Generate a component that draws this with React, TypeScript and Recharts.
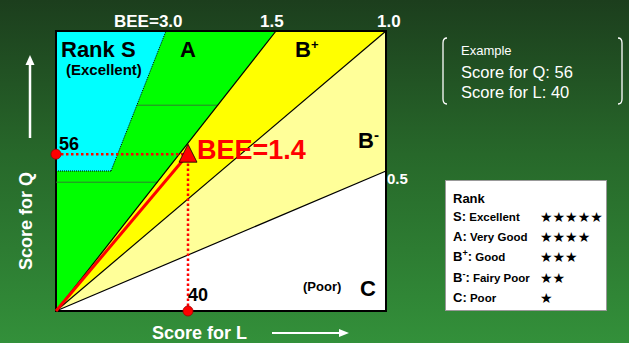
import React from 'react';
import {
  ComposedChart,
  Area,
  Scatter,
  XAxis,
  YAxis,
  CartesianGrid,
  ReferenceLine,
  ReferenceArea,
} from 'recharts';

// BEE boundaries (Q / L) drawn as lines from the origin
const beeLines = [0.5, 1.0, 1.5];
const beeTopLabels = ['BEE=3.0', '1.5', '1.0'];
// L positions where the bands bend
const lBreaks = [0, 50 / 3, 100 / 3, 200 / 3, 100];
// lower edge of each band (upper edge is 100)
const bMinusLow = [0, 8.3, 16.7, 33.3, 50];
const bPlusLow = [0, 16.7, 33.3, 66.7, 100];
const aLow = [0, 25, 50, 100, 100];
const sLow = [50, 50, 100, null, null];

// the example building
const exampleL = 40;
const exampleQ = 56;

// faint lines inside the green band
const greenLines = [
  { q: 73.5, from: 24.5, to: 49 },
  { q: 46, from: 0, to: 30.7 },
];

const rankRows = [
  { key: 'S', sup: '', text: 'Excellent', stars: '★★★★★' },
  { key: 'A', sup: '', text: 'Very Good', stars: '★★★★' },
  { key: 'B', sup: '+', text: 'Good', stars: '★★★' },
  { key: 'B', sup: '-', text: 'Fairy Poor', stars: '★★' },
  { key: 'C', sup: '', text: 'Poor', stars: '★' },
];

const data = lBreaks.map((L, i) => ({
  L,
  bMinus: [bMinusLow[i], 100],
  bPlus: [bPlusLow[i], 100],
  a: [aLow[i], 100],
  s: sLow[i] == null ? null : [sLow[i], 100],
}));

const font = '"Liberation Sans", Arial, sans-serif';

const Triangle = (props: any) => {
  const { cx, cy } = props;
  return (
    <polygon
      points={`${cx},${cy - 10} ${cx - 9},${cy + 8} ${cx + 9},${cy + 8}`}
      fill="#ff0000"
      stroke="#000"
      strokeWidth={0.8}
    />
  );
};

const Dot = (props: any) => {
  const { cx, cy } = props;
  return <circle cx={cx} cy={cy} r={5} fill="#ff0000" stroke="#a00000" strokeWidth={0.8} />;
};

export default function App() {
  return (
    <div
      style={{
        position: 'absolute',
        left: 0,
        top: 0,
        width: 629,
        height: 343,
        background: 'linear-gradient(180deg, #1c3e1d 0%, #27682a 45%, #33903a 100%)',
        fontFamily: font,
      }}
    >
      <ComposedChart
        width={629}
        height={343}
        data={data}
        margin={{ top: 31, right: 243, bottom: 32, left: 56 }}
      >
        <CartesianGrid horizontal={false} vertical={false} fill="#ffffff" fillOpacity={1} />
        <XAxis dataKey="L" type="number" domain={[0, 100]} hide />
        <YAxis type="number" domain={[0, 100]} hide />
        <Area dataKey="bMinus" type="linear" stroke="none" fill="#ffff99" fillOpacity={1} isAnimationActive={false} />
        <Area dataKey="bPlus" type="linear" stroke="none" fill="#ffff00" fillOpacity={1} isAnimationActive={false} />
        <Area dataKey="a" type="linear" stroke="none" fill="#00ff00" fillOpacity={1} isAnimationActive={false} />
        <Area dataKey="s" type="linear" stroke="none" fill="#00ffff" fillOpacity={1} isAnimationActive={false} />
        {greenLines.map((g, i) => (
          <ReferenceLine
            key={'g' + i}
            segment={[{ x: g.from, y: g.q }, { x: g.to, y: g.q }]}
            stroke="#2f7d2f"
            strokeWidth={1}
          />
        ))}
        <ReferenceLine
          segment={[{ x: 0, y: 50 }, { x: 50 / 3, y: 50 }]}
          stroke="#000"
          strokeDasharray="1 1"
        />
        <ReferenceLine
          segment={[{ x: 50 / 3, y: 50 }, { x: 100 / 3, y: 100 }]}
          stroke="#000"
          strokeDasharray="1 1"
        />
        {beeLines.map((b) => (
          <ReferenceLine
            key={b}
            segment={[{ x: 0, y: 0 }, { x: Math.min(100, 100 / b), y: Math.min(100, 100 * b) }]}
            stroke="#000"
            strokeWidth={1.2}
          />
        ))}
        <ReferenceLine
          segment={[{ x: 0, y: exampleQ }, { x: exampleL, y: exampleQ }]}
          stroke="#ff0000"
          strokeWidth={2.5}
          strokeDasharray="2.5 2.5"
        />
        <ReferenceLine
          segment={[{ x: exampleL, y: 0 }, { x: exampleL, y: exampleQ }]}
          stroke="#ff0000"
          strokeWidth={2.5}
          strokeDasharray="2.5 2.5"
        />
        <ReferenceLine
          segment={[{ x: 0, y: 0 }, { x: exampleL, y: exampleQ }]}
          stroke="#ff0000"
          strokeWidth={3}
        />
        <ReferenceArea x1={0} x2={100} y1={0} y2={100} fill="none" stroke="#000" strokeWidth={2} />
        <Scatter
          data={[{ L: 0, Q: exampleQ }, { L: exampleL, Q: 0 }]}
          dataKey="Q"
          shape={Dot}
          isAnimationActive={false}
        />
        <Scatter data={[{ L: exampleL, Q: exampleQ }]} dataKey="Q" shape={Triangle} isAnimationActive={false} />
      </ComposedChart>

      <svg
        width={629}
        height={343}
        style={{ position: 'absolute', left: 0, top: 0, pointerEvents: 'none' }}
        fontFamily={font}
        fontWeight="bold"
      >
        {/* top BEE labels */}
        <text x={114} y={27} fill="#fff" fontSize={17}>{beeTopLabels[0]}</text>
        <text x={260} y={27} fill="#fff" fontSize={17}>{beeTopLabels[1]}</text>
        <text x={377} y={27} fill="#fff" fontSize={17}>{beeTopLabels[2]}</text>
        <text x={387} y={184} fill="#fff" fontSize={15}>0.5</text>

        {/* rank labels in the plot */}
        <text x={61} y={57} fontSize={22}>Rank S</text>
        <text x={66} y={75} fontSize={15}>(Excellent)</text>
        <text x={180} y={57} fontSize={22}>A</text>
        <text x={295} y={57} fontSize={22}>B<tspan fontSize={13} dy={-8}>+</tspan></text>
        <text x={358} y={148} fontSize={22}>B<tspan fontSize={15} dy={-8}>-</tspan></text>
        <text x={303} y={291} fontSize={13}>(Poor)</text>
        <text x={360} y={296} fontSize={22}>C</text>

        <text x={197} y={159} fill="#ff0000" fontSize={27}>BEE=1.4</text>
        <text x={59} y={150} fontSize={18}>56</text>
        <text x={188} y={301} fontSize={18}>40</text>

        {/* axis titles and arrows */}
        <text x={32} y={221} fill="#fff" fontSize={18} textAnchor="middle" transform="rotate(-90 32 221)">
          Score for Q
        </text>
        <line x1={30} y1={138} x2={30} y2={64} stroke="#fff" strokeWidth={2.5} />
        <polygon points="30,55 25.5,65 34.5,65" fill="#fff" />
        <text x={152} y={339} fill="#fff" fontSize={18}>Score for L</text>
        <line x1={272} y1={333} x2={340} y2={333} stroke="#fff" strokeWidth={2} />
        <polygon points="349,333 339,329 339,337" fill="#fff" />

        {/* example box */}
        <path d="M447,38 Q443,38 443,43 L443,99 Q443,104 447,104" fill="none" stroke="#fff" strokeWidth={1.3} />
        <path d="M618,38 Q622,38 622,43 L622,99 Q622,104 618,104" fill="none" stroke="#fff" strokeWidth={1.3} />
        <g fontWeight="normal" fill="#fff">
          <text x={461} y={55} fontSize={13}>Example</text>
          <text x={461} y={78} fontSize={16.5}>Score for Q: {exampleQ}</text>
          <text x={461} y={98} fontSize={16.5}>Score for L: {exampleL}</text>
        </g>

        {/* rank legend */}
        <rect x={445.5} y={180.5} width={161} height={130} fill="#fff" stroke="#999" strokeWidth={1} />
        <text x={453} y={203} fontSize={13}>Rank</text>
        {rankRows.map((r, i) => {
          const y = 221 + i * 20.2;
          return (
            <g key={i}>
              <text x={453} y={y} fontSize={13}>
                {r.key}
                {r.sup && <tspan fontSize={9} dy={-5}>{r.sup}</tspan>}
                <tspan dy={r.sup ? 5 : 0}>:</tspan>
                <tspan fontSize={11.5}> {r.text}</tspan>
              </text>
              <text x={540} y={y + 1} fontSize={14} fontFamily="DejaVu Sans" fontWeight="normal">
                {r.stars}
              </text>
            </g>
          );
        })}
      </svg>
    </div>
  );
}
